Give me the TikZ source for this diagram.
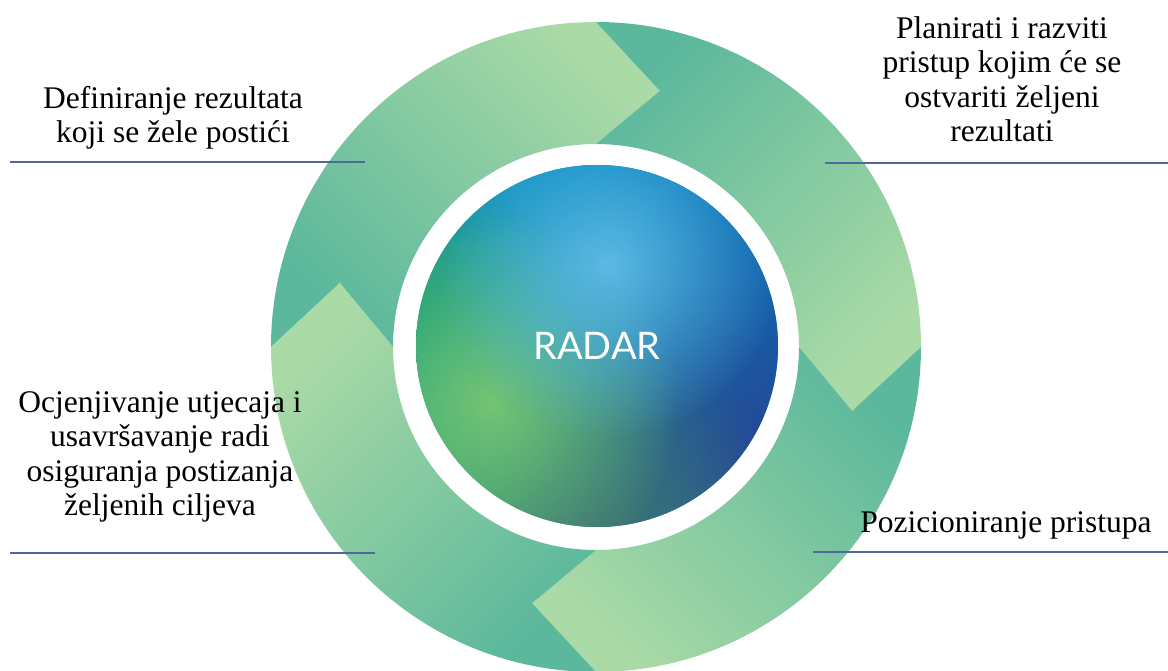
\documentclass[tikz,border=0pt]{standalone}
\usepackage{fontspec}
\setmainfont{Liberation Serif}
\newfontfamily\latofont{Lato}
\usetikzlibrary{calc,fadings}

\definecolor{ringdark}{HTML}{5CB89C}
\definecolor{ringlight}{HTML}{AADAA6}
\definecolor{linecol}{HTML}{4F6A98}
\definecolor{cblue}{HTML}{0A78BC}
\definecolor{cgreen}{HTML}{2EA572}
\definecolor{glowlight}{HTML}{5CB9E4}
\definecolor{glowgreen}{HTML}{74C474}
\definecolor{glownavy}{HTML}{263F98}
\definecolor{glowbottom}{HTML}{3E7272}
\definecolor{glowtop}{HTML}{0092C8}
\definecolor{glowupright}{HTML}{0870B4}
\definecolor{glowleft}{HTML}{0A9C7C}

\tikzfading[name=glowfade, inner color=transparent!0, outer color=transparent!100]

\newcommand\ringseg[2]{%
  \shade[seg, shading angle=#2]
    ($(C)+(#1:\Ro)$) arc[start angle=#1, end angle=#1-90, radius=\Ro]
    -- ($(C)+(#1-90-\dT:\Rt)$) -- ($(C)+(#1-90:\Ri)$)
    arc[start angle=#1-90, end angle=#1, radius=\Ri]
    -- ($(C)+(#1-\dT:\Rt)$) -- cycle;}

\begin{document}
\begin{tikzpicture}[x=1pt,y=1pt,
  seg/.style={top color=ringlight, bottom color=ringdark},
  lbl/.style={font=\fontsize{31.5}{34.5}\selectfont, align=center, inner sep=0pt, anchor=north, text=black},
  leader/.style={draw=linecol, line width=2.2pt},
  glow/.style={path fading=glowfade}
]
\useasboundingbox (0,0) rectangle (1168,670);
\coordinate (C) at (596,323);
\coordinate (G) at (597,324);
\def\Ro{325}\def\Ri{203}\def\Rt{264}\def\dT{14}

% ring of four arrows
\ringseg{180}{-45}
\ringseg{90}{-135}
\ringseg{0}{135}
\ringseg{-90}{45}

% centre disc
\begin{scope}
  \clip (G) circle[radius=181];
  \shade[top color=cblue, bottom color=cgreen, shading angle=-45]
    ($(G)+(-181,-181)$) rectangle ($(G)+(181,181)$);
  \fill[glowtop, glow] (597,505) circle[radius=220];
  \fill[glowupright, glow] (745,460) circle[radius=220];
  \fill[glowleft, glow] (420,340) circle[radius=160];
  \fill[glownavy, glow] (775,205) circle[radius=280];
  \fill[glowbottom, glow] (600,125) circle[radius=200];
  \fill[glowgreen, glow] (490,268) circle[radius=190];
  \fill[glowlight, glow] (607,405) circle[radius=175];
\end{scope}
\node[font=\latofont\fontsize{38}{38}\selectfont, text=white, inner sep=0pt] (radar) at (G) {RADAR};

% labels
\node[lbl] (tl) at (173,584) {Definiranje rezultata\\koji se žele postići};
\node[lbl] (tr) at (1002,654) {Planirati i razviti\\pristup kojim će se\\ostvariti željeni\\rezultati};
\node[lbl] (bl) at (160,279) {Ocjenjivanje utjecaja i\\usavršavanje radi\\osiguranja postizanja\\željenih ciljeva};
\node[lbl] (br) at (1006,159) {Pozicioniranje pristupa};

% leader lines
\coordinate (tlA) at (10,508);  \coordinate (tlB) at (365,508);
\coordinate (trA) at (825,507); \coordinate (trB) at (1168,507);
\coordinate (blA) at (10,117);  \coordinate (blB) at (375,117);
\coordinate (brA) at (813,118); \coordinate (brB) at (1168,118);
\draw[leader] (tlA) -- (tlB);
\draw[leader] (trA) -- (trB);
\draw[leader] (blA) -- (blB);
\draw[leader] (brA) -- (brB);
\end{tikzpicture}
\end{document}
